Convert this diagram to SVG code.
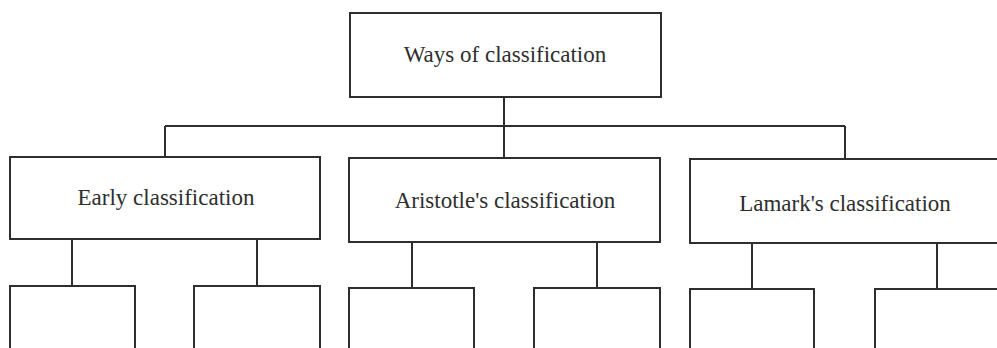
<svg xmlns="http://www.w3.org/2000/svg" width="997" height="348" viewBox="0 0 997 348">
<style>
.box{fill:#fff;stroke:#2e2e2e;stroke-width:2}
.ln{fill:none;stroke:#2e2e2e;stroke-width:2}
.t{font-family:"Liberation Serif","Times New Roman",serif;font-size:23px;fill:#2e2e2e;text-anchor:middle}
</style>
<rect width="997" height="348" fill="#fff"/>
<g id="connectors">
<path class="ln" d="M504 97V126M165 126H845M165 126V157M504 126V158M845 126V159"/>
<path class="ln" d="M72 239V286M257 239V286"/>
<path class="ln" d="M412 242V288M597 242V288"/>
<path class="ln" d="M752 243V289M937 243V289"/>
</g>
<g id="root"><rect class="box" x="350" y="13" width="311" height="84"/><text class="t" x="505" y="62">Ways of classification</text></g>
<g id="early"><rect class="box" x="10" y="157" width="310" height="82"/><text class="t" x="166" y="205">Early classification</text></g>
<g id="aristotle"><rect class="box" x="349" y="158" width="311" height="84"/><text class="t" x="505" y="208">Aristotle's classification</text></g>
<g id="lamark"><rect class="box" x="690" y="159" width="320" height="84"/><text class="t" x="845" y="211">Lamark's classification</text></g>
<g id="early-a"><rect class="box" x="10" y="286" width="125" height="70"/></g>
<g id="early-b"><rect class="box" x="194" y="286" width="126" height="70"/></g>
<g id="aristotle-a"><rect class="box" x="349" y="288" width="125" height="70"/></g>
<g id="aristotle-b"><rect class="box" x="534" y="288" width="126" height="70"/></g>
<g id="lamark-a"><rect class="box" x="690" y="289" width="124" height="70"/></g>
<g id="lamark-b"><rect class="box" x="875" y="289" width="130" height="70"/></g>
</svg>
